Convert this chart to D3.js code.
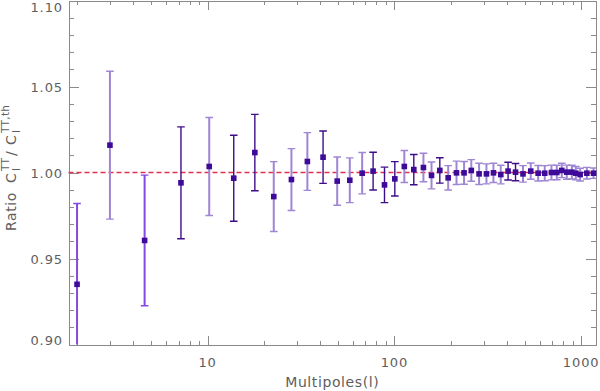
<!DOCTYPE html>
<html>
<head>
    <title></title>
    <script src="https://cdn.jsdelivr.net/npm/d3@7"></script>
    <style>
        body{ margin:0; background:#fff; }
        .lbl{
            font-family: "DejaVu Sans", sans-serif;
            font-size: 13px;
            fill: #5e5e5e;
            letter-spacing: 0.9px;
        }
        .axis path, .axis line{ stroke: #8a8a8a; shape-rendering: crispEdges; }
    </style>
</head>
<body>

<script type="text/javascript">

    // multipole bins, measured ratio and its 1-sigma error
    var ell = [2, 3, 4.6, 7.2, 10.2, 13.8, 17.9, 22.6, 28.1, 34.2,
               41.5, 49.4, 57.7, 67.2, 76.9, 88.5, 100.5, 113, 127, 143,
               158, 175, 194, 215, 236, 258, 284, 311, 339, 371,
               406, 445, 488, 537, 588, 638, 693, 740, 787, 837,
               891, 936, 987, 1072, 1164];
    var ratio = [0.935, 1.0159, 0.9605, 0.994, 1.0035, 0.9967, 1.0116, 0.986, 0.9959, 1.0064,
                 1.0089, 0.995, 0.9955, 0.9996, 1.0008, 0.9928, 0.9963, 1.0035, 1.0017, 1.0029,
                 0.9983, 1.0012, 0.9969, 0.9998, 0.9998, 1.0012, 0.9992, 0.9992, 0.9998, 0.9988,
                 1.0008, 1.0002, 0.9992, 1.0008, 0.9996, 0.9996, 1.0, 1.0, 1.0012, 1.0002,
                 1.0002, 0.9996, 0.9988, 0.9996, 0.9996];
    var err = [0.047, 0.043, 0.038, 0.0325, 0.0285, 0.025, 0.0222, 0.0203, 0.018, 0.0168,
               0.0152, 0.014, 0.013, 0.012, 0.011, 0.0103, 0.010, 0.0093, 0.0088, 0.0083,
               0.0078, 0.0074, 0.0071, 0.0068, 0.0066, 0.0063, 0.0062, 0.0058, 0.0056, 0.0054,
               0.0052, 0.005, 0.0048, 0.0047, 0.0045, 0.0044, 0.0043, 0.0042, 0.0042, 0.0041,
               0.004, 0.0039, 0.0037, 0.0034, 0.003];
    // which shade each error bar is drawn in
    var tone = [2, 0, 2, 1, 0, 1, 1, 0, 0, 0,
                1, 0, 0, 0, 1, 1, 1, 0, 1, 0,
                0, 1, 0, 0, 0, 0, 0, 0, 0, 0,
                1, 1, 0, 0, 0, 0, 0, 0, 0, 0,
                0, 0, 0, 0, 0];

    var xTickLabels = [10, 100, 1000],
        yTickLabels = [0.90, 0.95, 1.00, 1.05, 1.10],
        refLevel = 1.0;

    var w = 600, h = 391,
        pLeft = 68.5, pRight = 596, pTop = 0.5, pBottom = 344.5;

    var x = d3.scaleLog().domain([1.8, 1200]).range([pLeft, pRight]);
    var y = d3.scaleLinear().domain([0.90, 1.10]).range([pBottom, pTop]);
    var toneColor = ["#9f86d4", "#3e0d8a", "#8548e0"];

    var svg = d3.select("body")
            .append("svg")
            .attr("width", w)
            .attr("height", h);

    svg.append("defs").append("clipPath").attr("id", "plot")
        .append("rect").attr("x", pLeft).attr("y", pTop)
        .attr("width", pRight - pLeft).attr("height", pBottom - pTop);

    // minor / major tick values
    var xMinor = [];
    [1, 10, 100, 1000].forEach(function (d) {
        for (var k = 2; k <= 9; k++) if (d * k > 1.8 && d * k < 1200) xMinor.push(d * k);
    });
    var yMinor = d3.range(0, 21).map(function (i) { return 0.90 + i * 0.01; })
            .filter(function (v) { return Math.round(v * 100) % 5 !== 0; });

    function axisGroup(axis, tx, ty) {
        svg.append("g").attr("class", "axis")
            .attr("transform", "translate(" + tx + "," + ty + ")")
            .call(axis)
            .call(function (g) { g.selectAll("text").remove(); });
    }

    // bottom & top
    axisGroup(d3.axisBottom(x).tickValues(xMinor).tickSize(-4).tickSizeOuter(0), 0, pBottom);
    axisGroup(d3.axisBottom(x).tickValues(xTickLabels).tickSize(-9).tickSizeOuter(0), 0, pBottom);
    axisGroup(d3.axisTop(x).tickValues(xMinor).tickSize(-4).tickSizeOuter(0), 0, pTop);
    axisGroup(d3.axisTop(x).tickValues(xTickLabels).tickSize(-9).tickSizeOuter(0), 0, pTop);
    // left & right
    axisGroup(d3.axisLeft(y).tickValues(yMinor).tickSize(-5).tickSizeOuter(0), pLeft, 0);
    axisGroup(d3.axisLeft(y).tickValues(yTickLabels).tickSize(-10).tickSizeOuter(0), pLeft, 0);
    axisGroup(d3.axisRight(y).tickValues(yMinor).tickSize(-5).tickSizeOuter(0), pRight, 0);
    axisGroup(d3.axisRight(y).tickValues(yTickLabels).tickSize(-10).tickSizeOuter(0), pRight, 0);

    // tick labels
    svg.selectAll("text.xl")
            .data(xTickLabels)
            .enter()
            .append("text")
            .attr("class", "lbl")
            .attr("x", function (d) { return x(d); })
            .attr("y", 367)
            .attr("text-anchor", "middle")
            .text(function (d) { return d; });

    svg.selectAll("text.yl")
            .data(yTickLabels)
            .enter()
            .append("text")
            .attr("class", "lbl")
            .attr("x", 63)
            .attr("y", function (d) {
                var p = y(d) + 5;                       // keep end labels inside the frame
                return Math.min(Math.max(p, 12), 345);
            })
            .attr("text-anchor", "end")
            .text(function (d) { return d.toFixed(2); });

    // axis titles
    svg.append("text")
            .attr("class", "lbl")
            .attr("x", (pLeft + pRight) / 2)
            .attr("y", 387)
            .style("font-size", "14px")
            .style("letter-spacing", "0.6px")
            .attr("text-anchor", "middle")
            .text("Multipoles(l)");

    // Ratio C_l^TT / C_l^TT,th, laid out piece by piece along the rotated baseline
    var yt = svg.append("text")
            .attr("class", "lbl")
            .style("font-size", "14px")
            .style("letter-spacing", "0.6px")
            .attr("transform", "translate(16,231) rotate(-90)");
    var parts = [
        {t: "Ratio", at: 0, dv: 0, small: false},
        {t: "C", at: 48, dv: 0, small: false},
        {t: "l", at: 60, dv: 4, small: true},
        {t: "TT", at: 60, dv: -7, small: true},
        {t: "/", at: 75, dv: 0, small: false},
        {t: "C", at: 86, dv: 0, small: false},
        {t: "l", at: 98, dv: 4, small: true},
        {t: "TT,th", at: 98, dv: -7, small: true}
    ];
    parts.forEach(function (p) {
        yt.append("tspan")
            .attr("x", p.at)
            .attr("y", p.dv)
            .style("font-size", p.small ? "10.5px" : null)
            .style("letter-spacing", p.small ? "0.3px" : null)
            .text(p.t);
    });

    // reference line
    svg.append("line")
            .attr("x1", pLeft).attr("x2", pRight)
            .attr("y1", y(refLevel)).attr("y2", y(refLevel))
            .attr("stroke", "#e2304e")
            .attr("stroke-width", 1.3)
            .attr("stroke-dasharray", "5,3");

    // error bars
    var idx = d3.range(ell.length);
    var bars = svg.append("g").attr("clip-path", "url(#plot)");

    bars.selectAll("line.v")
            .data(idx)
            .enter()
            .append("line")
            .attr("x1", function (i) { return x(ell[i]); })
            .attr("x2", function (i) { return x(ell[i]); })
            .attr("y1", function (i) { return y(ratio[i] + err[i]); })
            .attr("y2", function (i) { return y(ratio[i] - err[i]); })
            .attr("stroke", function (i) { return toneColor[tone[i]]; })
            .attr("stroke-width", function (i) { return tone[i] === 1 ? 1.4 : 2; });

    ["+", "-"].forEach(function (s) {
        bars.selectAll("line.c" + (s === "+" ? "t" : "b"))
                .data(idx)
                .enter()
                .append("line")
                .attr("x1", function (i) { return x(ell[i]) - 3.8; })
                .attr("x2", function (i) { return x(ell[i]) + 3.8; })
                .attr("y1", function (i) { return y(s === "+" ? ratio[i] + err[i] : ratio[i] - err[i]); })
                .attr("y2", function (i) { return y(s === "+" ? ratio[i] + err[i] : ratio[i] - err[i]); })
                .attr("stroke", function (i) { return toneColor[tone[i]]; })
                .attr("stroke-width", 1.4);
    });

    // points
    svg.selectAll("rect.pt")
            .data(idx)
            .enter()
            .append("rect")
            .attr("x", function (i) { return x(ell[i]) - 2.8; })
            .attr("y", function (i) { return y(ratio[i]) - 2.8; })
            .attr("width", 5.6)
            .attr("height", 5.6)
            .attr("fill", "#3d0a99");
</script>
</body>
</html>
